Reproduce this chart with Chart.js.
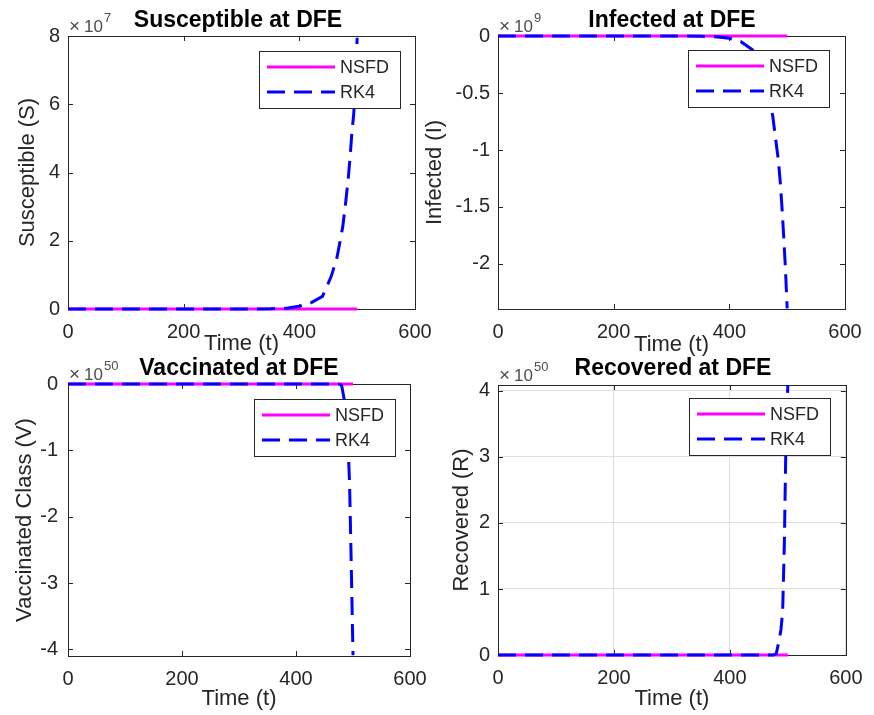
<!DOCTYPE html>
<html>
<head>
<meta charset="utf-8">
<title>DFE simulations</title>
<script src="https://cdn.jsdelivr.net/npm/chart.js@4.4.1/dist/chart.umd.min.js"></script>
<style>
  html, body { margin: 0; padding: 0; background: #fff; }
  #fig { position: relative; width: 874px; height: 715px; background: #fff; }
  #fig canvas { position: absolute; left: 0; top: 0; }
</style>
</head>
<body>
<div id="fig">
  <canvas id="c1" width="874" height="715"></canvas>
  <canvas id="c2" width="874" height="715"></canvas>
  <canvas id="c3" width="874" height="715"></canvas>
  <canvas id="c4" width="874" height="715"></canvas>
</div>
<script>
// ---------- DATA ----------
const seriesNames = ['NSFD', 'RK4'];

const timeNSFD = [0, 100, 200, 300, 400, 500];
const timeRK4 = [0, 100, 200, 300, 350, 380, 400, 420, 440, 455, 465, 475, 480, 485, 488, 491, 494, 497, 500];

// susceptible, x 1e7
const nsfdS = [0, 0, 0, 0, 0, 0];
const rk4S = [0, 0, 0, 0, 0.005, 0.03, 0.08, 0.18, 0.37, 0.95, 1.5, 2.4, 3.1, 3.9, 4.5, 5.2, 5.7, 6.6, 7.95];

// infected, x 1e9
const nsfdI = [0, 0, 0, 0, 0, 0];
const rk4I = [0, 0, 0, 0, -0.002, -0.008, -0.02, -0.05, -0.12, -0.3, -0.46, -0.7, -0.9, -1.1, -1.28, -1.5, -1.76, -2.04, -2.39];

// vaccinated, x 1e50
const nsfdV = [0, 0, 0, 0, 0, 0];
const rk4V = [0, 0, 0, 0, 0, 0, 0, 0, 0, 0, 0, 0, -0.02, -0.25, -0.5, -0.85, -1.5, -2.75, -4.09];

// recovered, x 1e50
const nsfdR = [0, 0, 0, 0, 0, 0];
const rk4R = [0, 0, 0, 0, 0, 0, 0, 0, 0, 0, 0, 0, 0.02, 0.22, 0.38, 0.65, 1.7, 3.4, 4.09];

const xTicks = [0, 200, 400, 600];
const yTicksS = [0, 2, 4, 6, 8];
const yTicksI = [-2, -1.5, -1, -0.5, 0];
const yTicksV = [-4, -3, -2, -1, 0];
const yTicksR = [0, 1, 2, 3, 4];

// ---------- STYLE ----------
const FONT = '"Liberation Sans", Arial, Helvetica, sans-serif';
const AXIS_COLOR = '#262626';
const NSFD_COLOR = '#ff00ff';
const RK4_COLOR = '#0000ff';
const DASH = [18, 9];
const W = 874, H = 715;
const LABEL_LH = 26.4; // 22px * 1.2

const panels = [
  { id: 'c1', title: 'Susceptible at DFE', yLabel: 'Susceptible (S)', exp: '7',
    nsfd: nsfdS, rk4: rk4S, yMin: 0, yMax: 8, yTicks: yTicksS, grid: false,
    area: { l: 68, t: 36, r: 415, b: 309 }, yTitleX: 28, xTitleY: 343.5,
    titlePos: [238, 26.5], legendPos: [259, 51], yPad: 8 },
  { id: 'c2', title: 'Infected at DFE', yLabel: 'Infected (I)', exp: '9',
    nsfd: nsfdI, rk4: rk4I, yMin: -2.395, yMax: 0, yTicks: yTicksI, grid: false,
    area: { l: 498, t: 36, r: 845, b: 309 }, yTitleX: 435, xTitleY: 345,
    titlePos: [672, 26.5], legendPos: [688, 50], yPad: 8 },
  { id: 'c3', title: 'Vaccinated at DFE', yLabel: 'Vaccinated Class (V)', exp: '50',
    nsfd: nsfdV, rk4: rk4V, yMin: -4.1, yMax: 0, yTicks: yTicksV, grid: false,
    area: { l: 68, t: 384, r: 410, b: 656 }, yTitleX: 25, xTitleY: 698.5,
    titlePos: [239, 375.3], legendPos: [254, 399], yPad: 10 },
  { id: 'c4', title: 'Recovered at DFE', yLabel: 'Recovered (R)', exp: '50',
    nsfd: nsfdR, rk4: rk4R, yMin: 0, yMax: 4.09, yTicks: yTicksR, grid: true,
    area: { l: 498, t: 385, r: 846, b: 655 }, yTitleX: 462, xTitleY: 698.5,
    titlePos: [673, 375.3], legendPos: [689, 398], yPad: 8 }
];

// frame with inward ticks under the lines; legend box, title and exponent on top
function makeDecor(p) {
  return {
    id: 'decor',
    beforeDatasetsDraw(chart) {
      const ctx = chart.ctx;
      const { left, top, right, bottom } = chart.chartArea;
      const xs = chart.scales.x, ys = chart.scales.y;
      ctx.save();
      ctx.strokeStyle = AXIS_COLOR;
      ctx.lineWidth = 1;
      ctx.strokeRect(Math.round(left) + 0.5, Math.round(top) + 0.5,
        Math.round(right - left), Math.round(bottom - top));
      ctx.beginPath();
      xTicks.forEach(v => {
        const px = Math.round(xs.getPixelForValue(v)) + 0.5;
        ctx.moveTo(px, bottom); ctx.lineTo(px, bottom - 5);
        ctx.moveTo(px, top); ctx.lineTo(px, top + 5);
      });
      p.yTicks.forEach(v => {
        const py = Math.round(ys.getPixelForValue(v)) + 0.5;
        ctx.moveTo(left, py); ctx.lineTo(left + 5, py);
        ctx.moveTo(right, py); ctx.lineTo(right - 5, py);
      });
      ctx.stroke();
      ctx.restore();
    },
    afterDatasetsDraw(chart) {
      const ctx = chart.ctx;
      const { left, top } = chart.chartArea;
      ctx.save();

      // legend
      const [lx, ly] = p.legendPos;
      const lw = 141, lh = 57;
      ctx.fillStyle = '#fff';
      ctx.fillRect(lx, ly, lw, lh);
      ctx.strokeStyle = AXIS_COLOR;
      ctx.lineWidth = 1;
      ctx.strokeRect(lx + 0.5, ly + 0.5, lw, lh);
      ctx.lineWidth = 3;
      ctx.strokeStyle = NSFD_COLOR;
      ctx.beginPath(); ctx.moveTo(lx + 8, ly + 16); ctx.lineTo(lx + 76, ly + 16); ctx.stroke();
      ctx.strokeStyle = RK4_COLOR;
      ctx.setLineDash(DASH);
      ctx.beginPath(); ctx.moveTo(lx + 8, ly + 41); ctx.lineTo(lx + 76, ly + 41); ctx.stroke();
      ctx.setLineDash([]);
      ctx.fillStyle = AXIS_COLOR;
      ctx.font = '18px ' + FONT;
      ctx.textAlign = 'left';
      ctx.textBaseline = 'middle';
      ctx.fillText(seriesNames[0], lx + 81, ly + 17);
      ctx.fillText(seriesNames[1], lx + 81, ly + 42);

      // title
      ctx.fillStyle = '#000';
      ctx.font = 'bold 23px ' + FONT;
      ctx.textAlign = 'center';
      ctx.textBaseline = 'alphabetic';
      ctx.fillText(p.title, p.titlePos[0], p.titlePos[1]);

      // exponent label
      ctx.fillStyle = '#4d4d4d';
      ctx.textAlign = 'left';
      ctx.font = '19px ' + FONT;
      ctx.fillText('\u00d7', left + 1, top - 4);
      ctx.font = '17px ' + FONT;
      ctx.fillText('10', left + 16, top - 4);
      const w10 = ctx.measureText('10').width;
      ctx.font = '13px ' + FONT;
      ctx.fillText(p.exp, left + 17 + w10, top - 14);

      ctx.restore();
    }
  };
}

panels.forEach(p => {
  const a = p.area;
  const padL = p.yTitleX - LABEL_LH / 2;
  const padB = H - p.xTitleY - LABEL_LH / 2;

  new Chart(document.getElementById(p.id), {
    type: 'line',
    data: {
      datasets: [
        {
          label: seriesNames[1],
          data: timeRK4.map((t, i) => ({ x: t, y: p.rk4[i] })),
          borderColor: RK4_COLOR,
          borderWidth: 3,
          borderDash: DASH,
          pointRadius: 0,
          tension: 0,
          fill: false,
          clip: 2,
          order: 0
        },
        {
          label: seriesNames[0],
          data: timeNSFD.map((t, i) => ({ x: t, y: p.nsfd[i] })),
          borderColor: NSFD_COLOR,
          borderWidth: 3,
          pointRadius: 0,
          tension: 0,
          fill: false,
          clip: 2,
          order: 1
        }
      ]
    },
    options: {
      responsive: false,
      animation: false,
      devicePixelRatio: 1,
      events: [],
      layout: { padding: { left: padL, top: a.t, right: W - a.r, bottom: padB } },
      plugins: {
        legend: { display: false },
        tooltip: { enabled: false },
        title: { display: false }
      },
      scales: {
        x: {
          type: 'linear',
          min: 0,
          max: 600,
          afterBuildTicks: s => { s.ticks = xTicks.map(v => ({ value: v })); },
          afterFit: s => { s.height = H - padB - a.b; },
          grid: { display: p.grid, color: '#dfdfdf', drawTicks: false },
          border: { display: false },
          ticks: {
            color: AXIS_COLOR, font: { family: FONT, size: 20 }, padding: 11.5,
            maxRotation: 0, minRotation: 0, autoSkip: false,
            callback: v => String(v)
          },
          title: {
            display: true, text: 'Time (t)', color: AXIS_COLOR,
            font: { family: FONT, size: 22, lineHeight: 1.2 }, padding: 0
          }
        },
        y: {
          type: 'linear',
          position: 'left',
          min: p.yMin,
          max: p.yMax,
          afterBuildTicks: s => { s.ticks = p.yTicks.map(v => ({ value: v })); },
          afterFit: s => { s.width = a.l - padL; },
          grid: { display: p.grid, color: '#dfdfdf', drawTicks: false },
          border: { display: false },
          ticks: {
            color: AXIS_COLOR, font: { family: FONT, size: 20 }, padding: p.yPad,
            autoSkip: false, callback: v => String(v)
          },
          title: {
            display: true, text: p.yLabel, color: AXIS_COLOR,
            font: { family: FONT, size: 22, lineHeight: 1.2 }, padding: 0
          }
        }
      }
    },
    plugins: [makeDecor(p)]
  });
});
</script>
</body>
</html>
